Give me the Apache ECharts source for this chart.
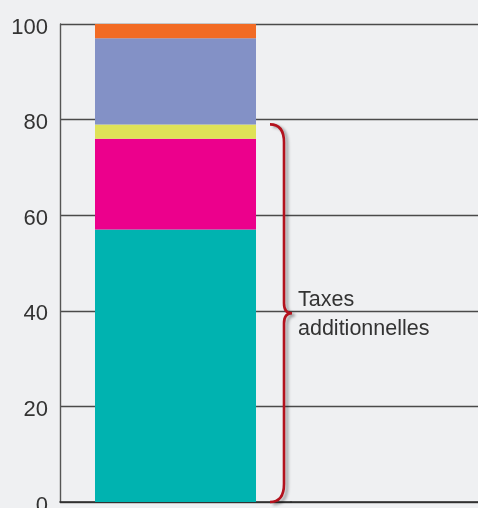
<!DOCTYPE html>
<html>
<head>
<meta charset="utf-8">
<script src="https://cdn.jsdelivr.net/npm/echarts@6/dist/echarts.min.js"></script>
<style>
  html, body { margin: 0; padding: 0; background: #eff0f2; }
  #chart { width: 478px; height: 508px; }
</style>
</head>
<body>
<div id="chart"></div>
<script>
// Stacked composition of the price (percent), bottom to top
const categories = [''];
const baseShare = [57];
const taxA = [19];
const taxB = [3];
const partC = [18];
const partD = [3];
const yTicks = [0, 20, 40, 60, 80, 100];
const braceLabel = ['Taxes', 'additionnelles'];

// the brace covers the three lowest segments
const braceTop = baseShare[0] + taxA[0] + taxB[0];

const colors = ['#00b3b0', '#ec008c', '#dfe257', '#8391c6', '#f26b24'];
const stacks = [baseShare, taxA, taxB, partC, partD];
const BAR_W = 161;
const textColor = '#333333';
const gridColor = '#4a4a4a';
const labelFont = '"Liberation Sans", Arial, sans-serif';

const chart = echarts.init(document.getElementById('chart'), null, { renderer: 'canvas' });

const barSeries = stacks.map((vals, i) => ({
  type: 'bar',
  stack: 'total',
  xAxisIndex: 0,
  yAxisIndex: 0,
  barWidth: BAR_W,
  data: vals,
  itemStyle: { color: colors[i] },
  silent: true
}));

function renderBrace(params, api) {
  const bottom = api.coord([api.value(0), 0]);
  const top = api.coord([api.value(0), api.value(1)]);
  const barRight = bottom[0] + BAR_W / 2;
  const xTip = barRight + 14;
  const xSpine = barRight + 28;
  const xMid = barRight + 36;
  const y0 = top[1];
  const y1 = bottom[1];
  const ym = (y0 + y1) / 2;
  const r = 18;
  const path = [
    'M', xTip, y0,
    'Q', xSpine, y0, xSpine, y0 + r,
    'L', xSpine, ym - 10,
    'Q', xSpine, ym, xMid, ym,
    'Q', xSpine, ym, xSpine, ym + 10,
    'L', xSpine, y1 - r,
    'Q', xSpine, y1, xTip, y1
  ].join(' ');
  const textStyle = (t) => ({
    text: t,
    fill: textColor,
    font: '21.5px ' + labelFont,
    align: 'left',
    verticalAlign: 'middle'
  });
  return {
    type: 'group',
    children: [
      {
        type: 'path',
        shape: { pathData: path },
        style: {
          fill: 'none',
          stroke: '#b3121d',
          lineWidth: 2.6,
          shadowColor: 'rgba(0,0,0,0.35)',
          shadowBlur: 3,
          shadowOffsetX: 3,
          shadowOffsetY: 2
        }
      },
      { type: 'text', x: xMid + 6, y: ym - 13, style: textStyle(braceLabel[0]) },
      { type: 'text', x: xMid + 6, y: ym + 16, style: textStyle(braceLabel[1]) }
    ]
  };
}

const yCommon = {
  type: 'value',
  min: yTicks[0],
  max: yTicks[yTicks.length - 1],
  interval: yTicks[1] - yTicks[0],
  axisTick: { show: false },
  splitLine: { show: true, lineStyle: { color: gridColor, width: 1.3 } }
};

chart.setOption({
  backgroundColor: '#eff0f2',
  animation: false,
  grid: [
    { left: 60, top: 24, width: 231, bottom: 6, outerBoundsMode: 'none', containLabel: false },
    { left: 291, top: 24, right: 0, bottom: 6, outerBoundsMode: 'none', containLabel: false }
  ],
  xAxis: [
    {
      type: 'category', gridIndex: 0, data: categories,
      axisLine: { show: true, lineStyle: { color: '#2a2a2a', width: 1.6 } },
      axisTick: { show: false }, axisLabel: { show: false }
    },
    {
      type: 'category', gridIndex: 1, data: categories,
      axisLine: { show: true, lineStyle: { color: '#2a2a2a', width: 1.6 } },
      axisTick: { show: false }, axisLabel: { show: false }
    }
  ],
  yAxis: [
    Object.assign({}, yCommon, {
      gridIndex: 0,
      axisLine: { show: true, lineStyle: { color: '#555555', width: 1.4 } },
      axisLabel: {
        color: textColor, fontSize: 22, margin: 12, fontFamily: labelFont,
        verticalAlign: 'top', lineHeight: 7
      }
    }),
    Object.assign({}, yCommon, {
      gridIndex: 1,
      axisLine: { show: false },
      axisLabel: { show: false }
    })
  ],
  series: barSeries.concat([{
    type: 'custom',
    xAxisIndex: 0,
    yAxisIndex: 0,
    clip: false,
    z: 10,
    silent: true,
    renderItem: renderBrace,
    data: [[0, braceTop]]
  }])
});
</script>
</body>
</html>
